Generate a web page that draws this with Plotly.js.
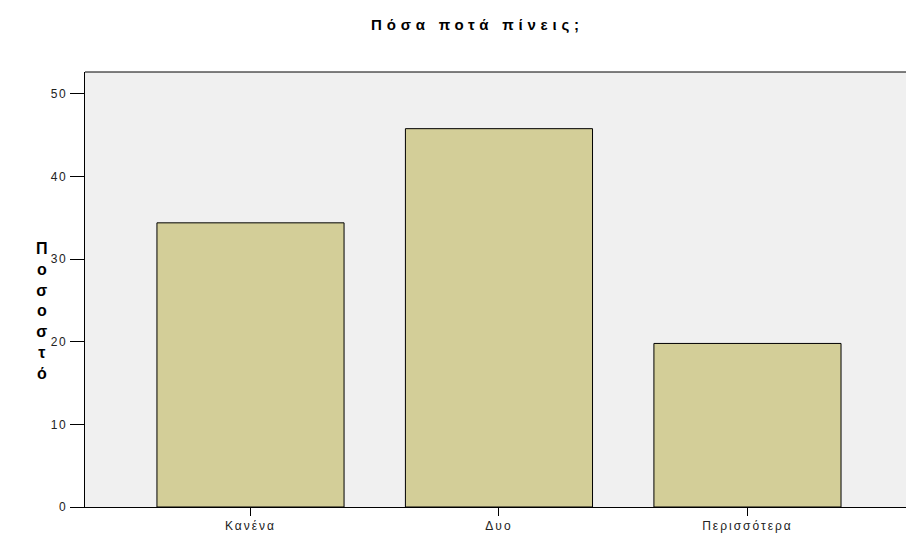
<!DOCTYPE html>
<html>
<head>
<meta charset="utf-8">
<script src="https://cdn.plot.ly/plotly-3.0.1.min.js"></script>
<style>
html,body{margin:0;padding:0;background:#fff;}
.gtitle{letter-spacing:4.8px;}
.xtick text{letter-spacing:2px;}
.ytick text{letter-spacing:1.8px;}
</style>
</head>
<body>
<div id="chart" style="width:906px;height:535px;"></div>
<script>
const categories = ["Κανένα", "Δυο", "Περισσότερα"];
const percents = [34.4, 45.8, 19.8];
const yTickVals = [0, 10, 20, 30, 40, 50];
const titleText = "Πόσα ποτά πίνεις;";
const yLabelLetters = ["Π", "ο", "σ", "ο", "σ", "τ", "ό"];

const trace = {
  type: "bar",
  x: categories,
  y: percents,
  width: 0.753,
  marker: {color: "#d3ce98", line: {color: "#000000", width: 1}},
  hoverinfo: "x+y"
};

const layout = {
  width: 906,
  height: 535,
  margin: {l: 85, r: 0, t: 72, b: 28, pad: 0},
  paper_bgcolor: "#ffffff",
  plot_bgcolor: "#f0f0f0",
  showlegend: false,
  font: {family: "Liberation Sans, Arial, sans-serif", color: "#000000", size: 12},
  title: {
    text: "<b>" + titleText + "</b>",
    x: 0.527, xanchor: "center",
    y: 0.953, yanchor: "middle",
    font: {family: "Liberation Sans, Arial, sans-serif", size: 15, color: "#000000"}
  },
  xaxis: {
    type: "category",
    range: [-0.666, 2.638],
    showgrid: false,
    zeroline: false,
    showline: true, linecolor: "#000000", linewidth: 1,
    ticks: "outside", ticklen: 8, tickwidth: 1, tickcolor: "#000000",
    tickfont: {size: 12, color: "#222222"},
    fixedrange: true
  },
  yaxis: {
    range: [0, 52.66],
    tickvals: yTickVals,
    ticktext: yTickVals.map(String),
    showgrid: false,
    zeroline: false,
    showline: true, linecolor: "#000000", linewidth: 1,
    ticks: "outside", ticklen: 14, tickwidth: 1, tickcolor: "#000000",
    tickfont: {size: 12, color: "#222222"},
    fixedrange: true
  },
  shapes: [{
    type: "line", xref: "paper", yref: "paper",
    x0: 0, x1: 1, y0: 1, y1: 1,
    line: {color: "#000000", width: 1}
  }],
  annotations: [{
    xref: "paper", yref: "paper",
    x: -0.052, y: 0.45, xanchor: "center", yanchor: "middle",
    showarrow: false,
    text: "<b>" + yLabelLetters.join("<br>") + "</b>",
    font: {family: "Liberation Sans, Arial, sans-serif", size: 16, color: "#000000"},
    align: "center"
  }]
};

Plotly.newPlot("chart", [trace], layout, {displayModeBar: false, staticPlot: true});
</script>
</body>
</html>
